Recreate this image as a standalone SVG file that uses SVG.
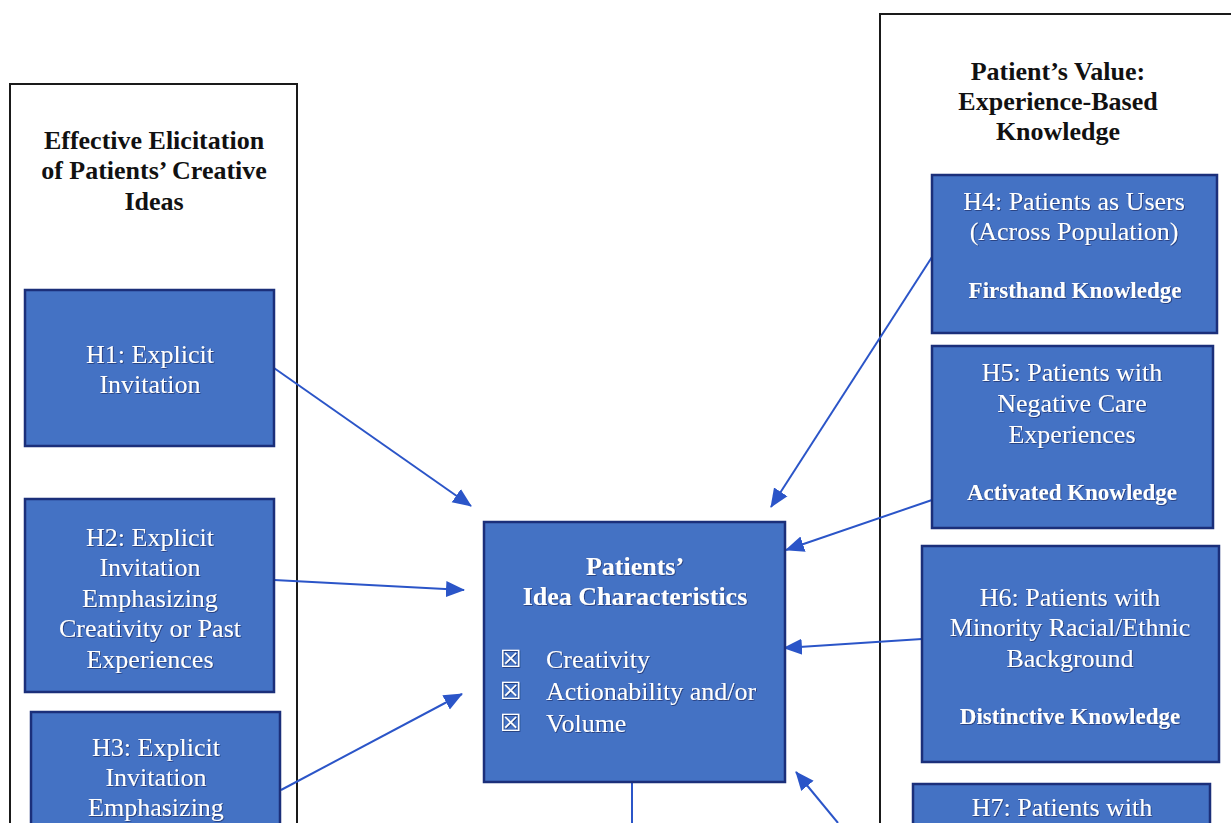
<svg xmlns="http://www.w3.org/2000/svg" width="1231" height="823" viewBox="0 0 1231 823">
<style>
.frame{fill:#ffffff;stroke:#1a1a1a;stroke-width:2}
.node{fill:#4472C4;stroke:#1B2F7A;stroke-width:2.5}
.t{font-family:"Liberation Serif","Times New Roman",serif;font-size:26px;fill:#ffffff;text-anchor:middle}
.b{font-weight:bold}
.k{font-size:23px}
.title{font-family:"Liberation Serif","Times New Roman",serif;font-size:26px;font-weight:bold;fill:#111111;text-anchor:middle}
.conn{stroke:#2B55C8;stroke-width:2;fill:none;marker-end:url(#ah)}
.plain{stroke:#2B55C8;stroke-width:2;fill:none}
.chk{font-family:"DejaVu Sans",sans-serif;font-size:24px;fill:#ffffff}
</style>
<defs>
<marker id="ah" markerUnits="userSpaceOnUse" markerWidth="20" markerHeight="18" refX="18" refY="9" orient="auto">
<path d="M0,1 L19,9 L0,17 Z" fill="#2B55C8"/>
</marker>
<filter id="sh" x="-5%" y="-20%" width="110%" height="140%">
<feDropShadow dx="0.8" dy="0.8" stdDeviation="0.7" flood-color="#0a1a50" flood-opacity="0.7"/>
</filter>
</defs>
<rect width="1231" height="823" fill="#ffffff"/>

<g id="frame-left">
<rect class="frame" x="10" y="84" width="287" height="760"/>
<text class="title" x="154" y="149">Effective Elicitation</text>
<text class="title" x="154" y="179">of Patients’ Creative</text>
<text class="title" x="154" y="210">Ideas</text>
</g>
<g id="frame-right">
<rect class="frame" x="880" y="14" width="370" height="830"/>
<text class="title" x="1058" y="80">Patient’s Value:</text>
<text class="title" x="1058" y="110">Experience-Based</text>
<text class="title" x="1058" y="140">Knowledge</text>
</g>

<g id="connectors">
<line class="conn" x1="274" y1="368" x2="471" y2="506"/>
<line class="conn" x1="274" y1="580" x2="464" y2="590"/>
<line class="conn" x1="281" y1="790" x2="462" y2="694"/>
<line class="conn" x1="932" y1="257" x2="771" y2="507"/>
<line class="conn" x1="932" y1="500" x2="786" y2="550"/>
<line class="conn" x1="922" y1="639" x2="784" y2="648"/>
<line class="conn" x1="838" y1="823" x2="796" y2="772"/>
<line class="plain" x1="632" y1="783" x2="632" y2="823"/>
</g>

<g id="H1">
<rect class="node" x="25" y="290" width="249" height="156"/>
<g filter="url(#sh)">
<text class="t" x="150" y="363">H1: Explicit</text>
<text class="t" x="150" y="393">Invitation</text>
</g>
</g>
<g id="H2">
<rect class="node" x="25" y="499" width="249" height="193"/>
<g filter="url(#sh)">
<text class="t" x="150" y="546">H2: Explicit</text>
<text class="t" x="150" y="576">Invitation</text>
<text class="t" x="150" y="607">Emphasizing</text>
<text class="t" x="150" y="637">Creativity or Past</text>
<text class="t" x="150" y="668">Experiences</text>
</g>
</g>
<g id="H3">
<rect class="node" x="31" y="712" width="249" height="140"/>
<g filter="url(#sh)">
<text class="t" x="156" y="756">H3: Explicit</text>
<text class="t" x="156" y="786">Invitation</text>
<text class="t" x="156" y="816">Emphasizing</text>
</g>
</g>

<g id="center">
<rect class="node" x="484" y="522" width="301" height="260"/>
<g filter="url(#sh)">
<text class="t b" x="635" y="575">Patients’</text>
<text class="t b" x="635" y="605">Idea Characteristics</text>
<text class="chk" x="500" y="667">☒</text>
<text class="chk" x="500" y="699">☒</text>
<text class="chk" x="500" y="731">☒</text>
<text class="t" x="546" y="668" style="text-anchor:start">Creativity</text>
<text class="t" x="546" y="700" style="text-anchor:start">Actionability and/or</text>
<text class="t" x="546" y="732" style="text-anchor:start">Volume</text>
</g>
</g>

<g id="H4">
<rect class="node" x="932" y="175" width="285" height="158"/>
<g filter="url(#sh)">
<text class="t" x="1074" y="210">H4: Patients as Users</text>
<text class="t" x="1074" y="240">(Across Population)</text>
<text class="t b k" x="1075" y="298">Firsthand Knowledge</text>
</g>
</g>
<g id="H5">
<rect class="node" x="932" y="346" width="281" height="182"/>
<g filter="url(#sh)">
<text class="t" x="1072" y="381">H5: Patients with</text>
<text class="t" x="1072" y="412">Negative Care</text>
<text class="t" x="1072" y="443">Experiences</text>
<text class="t b k" x="1072" y="500">Activated Knowledge</text>
</g>
</g>
<g id="H6">
<rect class="node" x="922" y="546" width="297" height="216"/>
<g filter="url(#sh)">
<text class="t" x="1070" y="606">H6: Patients with</text>
<text class="t" x="1070" y="636">Minority Racial/Ethnic</text>
<text class="t" x="1070" y="667">Background</text>
<text class="t b k" x="1070" y="724">Distinctive Knowledge</text>
</g>
</g>
<g id="H7">
<rect class="node" x="913" y="784" width="297" height="80"/>
<g filter="url(#sh)">
<text class="t" x="1062" y="816">H7: Patients with</text>
</g>
</g>
</svg>
